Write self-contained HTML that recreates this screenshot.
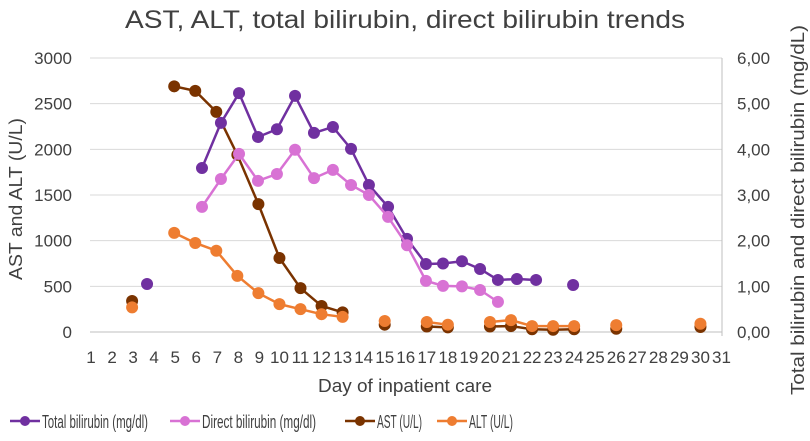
<!DOCTYPE html>
<html><head><meta charset="utf-8"><style>
body{margin:0;background:#fff;width:810px;height:436px;overflow:hidden}
svg{font-family:"Liberation Sans",sans-serif;fill:#404040}
</style></head><body>
<svg id="chart" width="810" height="436" viewBox="0 0 810 436"></svg>
<script>
const days=[];for(let d=1;d<=31;d++)days.push(d);
const leftTicks=[0,500,1000,1500,2000,2500,3000];
const rightTicks=["0,00","1,00","2,00","3,00","4,00","5,00","6,00"];
const astDays=[3,5,6,7,8,9,10,11,12,13,15,17,18,20,21,22,23,24,26,30];
const astVals=[340,2690,2640,2410,1940,1400,810,480,285,215,80,60,50,60,65,30,25,30,35,55];
const altVals=[270,1085,975,890,615,425,305,250,195,165,120,110,80,110,130,65,65,65,75,90];
const altDays=astDays;
const enzymeSegs=[[0,0],[1,9],[10,10],[11,12],[13,17],[18,18],[19,19]];
const biliDays=[3.71,6.32,7.22,8.08,8.98,9.88,10.74,11.64,12.54,13.40,14.25,15.16,16.06,16.96,17.77,18.67,19.53,20.38,21.28,22.19,23.95];
const totalBili=[1.05,3.59,4.58,5.23,4.27,4.44,5.17,4.36,4.49,4.01,3.22,2.74,2.04,1.49,1.50,1.55,1.38,1.14,1.16,1.14,1.03];
const biliSegs=[[0,0],[1,19],[20,20]];
const directDays=biliDays.slice(1,18);
const directBili=[2.74,3.35,3.90,3.31,3.46,3.99,3.37,3.55,3.22,3.00,2.52,1.90,1.12,1.01,1.00,0.92,0.66];
const directSegs=[[0,16]];

const svg=document.getElementById('chart');const NS='http://www.w3.org/2000/svg';
const X0=90,X1=722,Y0=332,Y1=58;
const xs=d=>X0+(d-1)*21.05;
const yL=v=>Y0-(v/3000)*(Y0-Y1);
const yR=v=>Y0-(v/6)*(Y0-Y1);
function el(t,a,p){const e=document.createElementNS(NS,t);for(const k in a)e.setAttribute(k,a[k]);(p||svg).appendChild(e);return e;}
function txt(s,a){const e=el('text',a);e.textContent=s;return e;}

const title=txt('AST, ALT, total bilirubin, direct bilirubin trends',{x:125,y:28,'font-size':25,textLength:560,lengthAdjust:'spacingAndGlyphs'});



leftTicks.forEach((v,i)=>{
  if(i>0){const g=el('line',{x1:X0,x2:X1,y1:yL(v),y2:yL(v),stroke:'#d9d9d9','stroke-width':1});
  
  }
  const t=txt(String(v),{x:72,y:yL(v)+6,'text-anchor':'end','font-size':17});
  
  
  const r=txt(rightTicks[i],{x:737,y:yL(v)+6,'font-size':17});
  
  
});
const ax=el('line',{x1:X0,x2:X1,y1:Y0,y2:Y0,stroke:'#bfbfbf'});


const ay=el('line',{x1:X1,x2:X1,y1:Y1,y2:Y0+4,stroke:'#bfbfbf'});


days.forEach(d=>{
  const t=txt(String(d),{x:xs(d)+(d>=10?0:1),y:363,'text-anchor':'middle','font-size':17});
  
  
});
const xt=txt('Day of inpatient care',{x:318,y:392,'font-size':18,textLength:174,lengthAdjust:'spacingAndGlyphs'});


const lt=txt('AST and ALT  (U/L)',{x:-280,y:0,'font-size':18,textLength:162,lengthAdjust:'spacingAndGlyphs',transform:'translate(22,0) rotate(-90)'});


const rt=txt('Total bilirubin and direct bilirubin (mg/dL)',{x:-395,y:0,'font-size':18,textLength:370,lengthAdjust:'spacingAndGlyphs',transform:'translate(804,0) rotate(-90)'});



function series(name,dx,vals,segs,yf,color){
  const g=el('g',{});
  
  
  segs.forEach(([a,b])=>{
    if(b>a){let p='';for(let i=a;i<=b;i++)p+=(i==a?'M':'L')+xs(dx[i])+','+yf(vals[i]);
      const l=el('path',{d:p,fill:'none',stroke:color,'stroke-width':2.5,'stroke-linejoin':'round'},g);
      
      }
  });
  vals.forEach((v,i)=>{
    const c=el('circle',{cx:xs(dx[i]),cy:yf(v),r:6,fill:color},g);
    
    
  });
}
series('ast',astDays,astVals,enzymeSegs,yL,'#7a3300');
series('alt',altDays,altVals,enzymeSegs,yL,'#ee7d31');
series('total-bilirubin',biliDays,totalBili,biliSegs,yR,'#7030a0');
series('direct-bilirubin',directDays,directBili,directSegs,yR,'#d872d4');

const leg=[['Total bilirubin (mg/dl)','#7030a0',10,106],['Direct bilirubin (mg/dl)','#d872d4',170,114],['AST (U/L)','#7a3300',345,45],['ALT (U/L)','#ee7d31',437,44]];
leg.forEach(([s,c,x,w])=>{
  const g=el('g',{});
  
  
  el('line',{x1:x,x2:x+30,y1:421,y2:421,stroke:c,'stroke-width':2.5},g);
  el('circle',{cx:x+15,cy:421,r:5,fill:c},g);
  const t=el('text',{x:x+32,y:428,'font-size':18,textLength:w,lengthAdjust:'spacingAndGlyphs'},g);
  t.textContent=s;
});
</script>
</body></html>
